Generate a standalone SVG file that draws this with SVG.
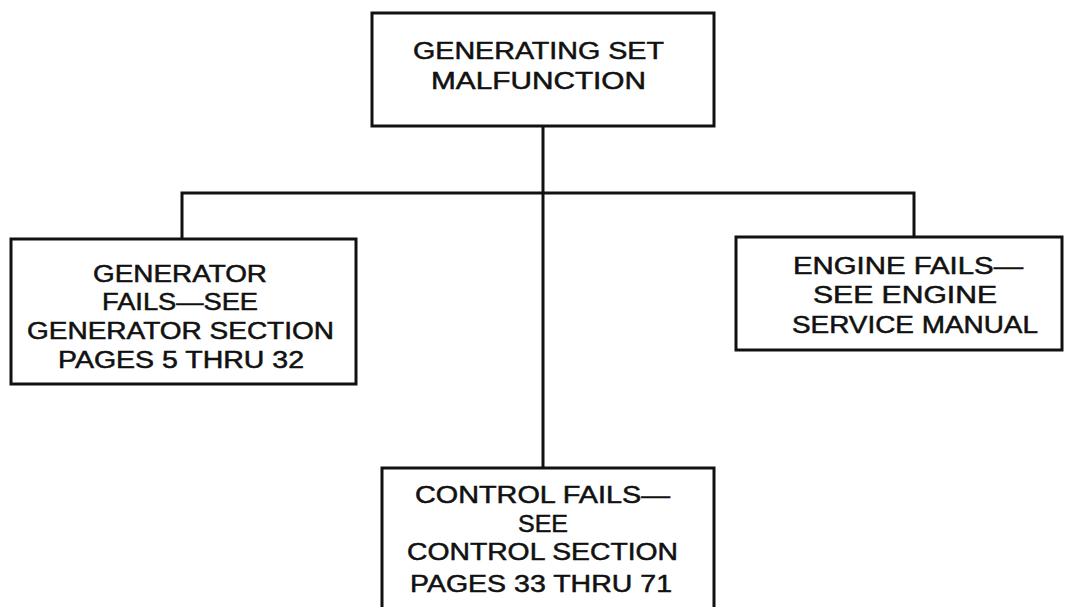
<svg xmlns="http://www.w3.org/2000/svg" width="1074" height="607" viewBox="0 0 1074 607">
<style>
.box{fill:#fff;stroke:#111;stroke-width:3}
.ln{fill:none;stroke:#111;stroke-width:3}
text{font-family:"Liberation Sans",Arial,sans-serif;font-size:23px;fill:#111;stroke:#111;stroke-width:0.5}
</style>
<rect width="1074" height="607" fill="#fff"/>
<g id="connectors">
<line class="ln" x1="543" y1="126" x2="543" y2="468"/>
<polyline class="ln" points="182,239 182,193 914,193 914,237"/>
</g>
<g id="top">
<rect class="box" x="372" y="13" width="342" height="113"/>
<text x="413" y="59" textLength="251" lengthAdjust="spacingAndGlyphs">GENERATING SET</text>
<text x="431" y="89" textLength="215" lengthAdjust="spacingAndGlyphs">MALFUNCTION</text>
</g>
<g id="generator">
<rect class="box" x="11" y="239" width="345" height="145"/>
<text x="93" y="282" textLength="174" lengthAdjust="spacingAndGlyphs">GENERATOR</text>
<text x="102" y="310" textLength="156" lengthAdjust="spacingAndGlyphs">FAILS—SEE</text>
<text x="27" y="339" textLength="307" lengthAdjust="spacingAndGlyphs">GENERATOR SECTION</text>
<text x="58" y="368" textLength="246" lengthAdjust="spacingAndGlyphs">PAGES 5 THRU 32</text>
</g>
<g id="engine">
<rect class="box" x="736" y="237" width="326" height="113"/>
<text x="793" y="274" textLength="230" lengthAdjust="spacingAndGlyphs">ENGINE FAILS—</text>
<text x="813" y="303" textLength="184" lengthAdjust="spacingAndGlyphs">SEE ENGINE</text>
<text x="792" y="333" textLength="246" lengthAdjust="spacingAndGlyphs">SERVICE MANUAL</text>
</g>
<g id="control">
<rect class="box" x="382" y="468" width="332" height="150"/>
<text x="415" y="503" textLength="255" lengthAdjust="spacingAndGlyphs">CONTROL FAILS—</text>
<text x="518" y="532" textLength="50" lengthAdjust="spacingAndGlyphs">SEE</text>
<text x="407" y="560" textLength="271" lengthAdjust="spacingAndGlyphs">CONTROL SECTION</text>
<text x="410" y="592" textLength="262" lengthAdjust="spacingAndGlyphs">PAGES 33 THRU 71</text>
</g>
</svg>
